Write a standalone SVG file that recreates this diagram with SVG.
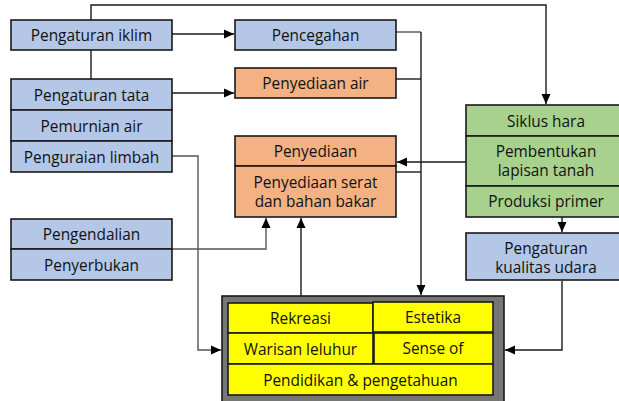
<svg xmlns="http://www.w3.org/2000/svg" width="619" height="401" viewBox="0 0 619 401">
<style>
.b{fill:#B4C7E7;stroke:#1a1a1a;stroke-width:1.6}
.o{fill:#F4B183;stroke:#1a1a1a;stroke-width:1.6}
.g{fill:#A9D18E;stroke:#1a1a1a;stroke-width:1.6}
.y{fill:#FFFF00;stroke:#1a1a1a;stroke-width:1.6}
.gr{fill:#767676;stroke:#1a1a1a;stroke-width:1.6}
text{font-family:"Open Sans","Noto Sans",sans-serif;font-size:15.4px;fill:#111;text-anchor:middle;dominant-baseline:central}
.c{fill:none;stroke:#1a1a1a;stroke-width:1.4}
.c2{fill:none;stroke:#555;stroke-width:1.4}
</style>
<defs>
<marker id="ah" markerUnits="userSpaceOnUse" markerWidth="10" markerHeight="10" viewBox="0 0 10 10" refX="10" refY="5" orient="auto">
<path d="M0,0.5 L10,5 L0,9.5 Z" fill="#000"/>
</marker>
</defs>
<g id="connectors">
<path class="c" d="M91,20 V5 H546 V104" marker-end="url(#ah)"/>
<path class="c" d="M91,50 V79"/>
<path class="c" d="M172,34 H234" marker-end="url(#ah)"/>
<path class="c" d="M172,93 H234" marker-end="url(#ah)"/>
<path class="c2" d="M396,32 H421"/>
<path class="c" d="M396,79 H421"/>
<path class="c" d="M421,32 V295" marker-end="url(#ah)"/>
<path class="c" d="M396,172 H421"/>
<path class="c" d="M466,162 H397" marker-end="url(#ah)"/>
<path class="c2" d="M172,156 H198 V350 H221" marker-end="url(#ah)"/>
<path class="c2" d="M172,249 H266 V218" marker-end="url(#ah)"/>
<path class="c" d="M301,296 V218" marker-end="url(#ah)"/>
<path class="c" d="M562,217 V232" marker-end="url(#ah)"/>
<path class="c" d="M562,281 V350 H505" marker-end="url(#ah)"/>
</g>
<g id="pengaturan-iklim"><rect class="b" x="11" y="20" width="161" height="30"/><text x="91.5" y="35">Pengaturan iklim</text></g>
<g id="pencegahan"><rect class="b" x="235" y="20" width="161" height="30"/><text x="315.5" y="35">Pencegahan</text></g>
<g id="penyediaan-air"><rect class="o" x="235" y="68" width="161" height="30"/><text x="315.5" y="83">Penyediaan air</text></g>
<g id="left-stack">
<rect class="b" x="11" y="79" width="161" height="31"/><text x="91.5" y="95">Pengaturan tata</text>
<rect class="b" x="11" y="110" width="161" height="31"/><text x="91.5" y="126">Pemurnian air</text>
<rect class="b" x="11" y="141" width="161" height="31"/><text x="91.5" y="157">Penguraian limbah</text>
</g>
<g id="penyediaan">
<rect class="o" x="235" y="136" width="161" height="30"/><text x="315.5" y="151">Penyediaan</text>
<rect class="o" x="235" y="166" width="161" height="51"/><text x="315.5" y="182">Penyediaan serat</text><text x="315.5" y="201">dan bahan bakar</text>
</g>
<g id="green-stack">
<rect class="g" x="466" y="105" width="160" height="31"/><text x="546" y="121">Siklus hara</text>
<rect class="g" x="466" y="136" width="160" height="50"/><text x="546" y="151">Pembentukan</text><text x="546" y="170">lapisan tanah</text>
<rect class="g" x="466" y="186" width="160" height="31"/><text x="546" y="201">Produksi primer</text>
</g>
<g id="kualitas-udara"><rect class="b" x="466" y="233" width="160" height="47"/><text x="546" y="248">Pengaturan</text><text x="546" y="267">kualitas udara</text></g>
<g id="pengendalian">
<rect class="b" x="11" y="219" width="161" height="30"/><text x="91.5" y="234">Pengendalian</text>
<rect class="b" x="11" y="249" width="161" height="31"/><text x="91.5" y="265">Penyerbukan</text>
</g>
<g id="budaya">
<rect class="gr" x="222" y="296" width="282" height="112"/>
<rect class="y" x="228" y="303" width="145" height="30"/><text x="300.5" y="318">Rekreasi</text>
<rect class="y" x="373" y="302" width="120" height="30"/><text x="433" y="317">Estetika</text>
<rect class="y" x="228" y="333" width="145" height="31"/><text x="300.5" y="349">Warisan leluhur</text>
<rect class="y" x="374" y="333" width="119" height="31"/><text x="433" y="348">Sense of</text>
<rect class="y" x="228" y="364" width="265" height="31"/><text x="360.5" y="380">Pendidikan &amp; pengetahuan</text>
</g>
</svg>
